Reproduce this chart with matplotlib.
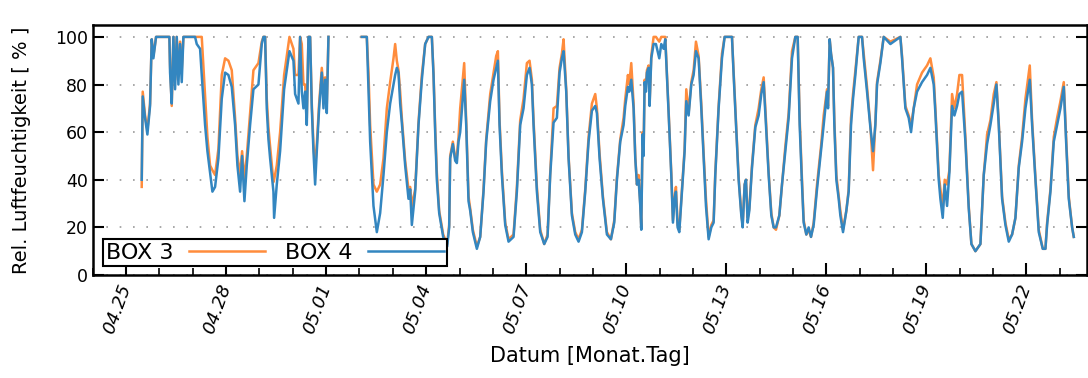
import numpy as np
import matplotlib
matplotlib.use("Agg")
import matplotlib.pyplot as plt
import matplotlib.dates as mdates

# time in days since 04.24 00:00 (rel. humidity in %)
t_days = [1.47, 1.50, 1.57, 1.64, 1.72, 1.77, 1.82, 1.90, 2.30, 2.32, 2.37, 2.42, 2.47, 2.52, 2.57, 2.62, 2.67, 2.72,
          3.07, 3.12, 3.22, 3.27, 3.37, 3.44, 3.52, 3.59, 3.67, 3.77, 3.87, 3.97, 4.07, 4.17, 4.27, 4.34, 4.42, 4.48,
          4.55, 4.62, 4.72, 4.82, 4.97, 5.07, 5.12, 5.17, 5.22, 5.27, 5.32, 5.42, 5.44, 5.52, 5.62, 5.74, 5.90, 6.02,
          6.07, 6.17, 6.22, 6.27, 6.32, 6.37, 6.42, 6.47, 6.52, 6.57, 6.62, 6.67, 6.72, 6.79, 6.87, 6.92, 6.97, 7.02,
          7.07, 7.50, 8.07, 8.22, 8.27, 8.32, 8.42, 8.52, 8.62, 8.72, 8.82, 8.92, 9.02, 9.07, 9.12, 9.17, 9.22, 9.27,
          9.37, 9.47, 9.52, 9.57, 9.67, 9.77, 9.87, 9.97, 10.07, 10.17, 10.22, 10.27, 10.32, 10.39, 10.51, 10.63,
          10.69, 10.72, 10.80, 10.87, 10.92, 10.97, 11.02, 11.14, 11.20, 11.27, 11.32, 11.40, 11.52, 11.62, 11.72,
          11.80, 11.92, 12.02, 12.10, 12.15, 12.20, 12.27, 12.37, 12.47, 12.62, 12.72, 12.82, 12.92, 13.02, 13.10,
          13.17, 13.22, 13.32, 13.42, 13.54, 13.64, 13.72, 13.82, 13.92, 14.00, 14.07, 14.12, 14.20, 14.27, 14.37,
          14.47, 14.57, 14.67, 14.77, 14.87, 14.97, 15.07, 15.12, 15.20, 15.30, 15.42, 15.54, 15.64, 15.72, 15.82,
          15.92, 15.97, 16.05, 16.09, 16.15, 16.22, 16.27, 16.32, 16.37, 16.42, 16.45, 16.49, 16.52, 16.55, 16.59,
          16.62, 16.67, 16.70, 16.75, 16.82, 16.89, 16.99, 17.05, 17.12, 17.17, 17.22, 17.27, 17.35, 17.40, 17.45,
          17.49, 17.54, 17.59, 17.67, 17.75, 17.80, 17.87, 17.95, 18.02, 18.09, 18.17, 18.25, 18.32, 18.39, 18.47,
          18.55, 18.62, 18.67, 18.77, 18.87, 18.95, 19.17, 19.22, 19.29, 19.37, 19.45, 19.49, 19.55, 19.59, 19.64,
          19.69, 19.77, 19.87, 19.97, 20.05, 20.12, 20.19, 20.27, 20.35, 20.42, 20.49, 20.59, 20.67, 20.77, 20.87,
          20.97, 21.07, 21.14, 21.20, 21.27, 21.32, 21.40, 21.47, 21.54, 21.62, 21.72, 21.84, 21.92, 22.02, 22.05,
          22.10, 22.14, 22.20, 22.24, 22.30, 22.37, 22.42, 22.50, 22.60, 22.67, 22.74, 22.80, 22.87, 22.97, 23.07,
          23.12, 23.22, 23.32, 23.40, 23.47, 23.52, 23.62, 23.72, 23.92, 24.22, 24.27, 24.37, 24.47, 24.54, 24.62,
          24.72, 24.87, 25.02, 25.12, 25.22, 25.27, 25.37, 25.42, 25.49, 25.55, 25.62, 25.69, 25.77, 25.84, 25.92,
          25.99, 26.07, 26.17, 26.27, 26.35, 26.47, 26.62, 26.72, 26.82, 26.92, 27.02, 27.10, 27.17, 27.27, 27.37,
          27.47, 27.57, 27.67, 27.77, 27.87, 27.97, 28.10, 28.17, 28.27, 28.37, 28.49, 28.57, 28.62, 28.72, 28.82,
          28.92, 29.02, 29.12, 29.19, 29.27, 29.37, 29.42]

box4 = [40, 75, 66, 59, 71, 99, 91, 100, 100, 85, 72, 100, 78, 100, 80, 97, 81, 100,
        100, 97, 95, 84, 63, 52, 43, 35, 37, 49, 74, 85, 84, 79, 63, 46, 35, 50,
        31, 46, 63, 78, 80, 97, 100, 100, 70, 57, 49, 35, 24, 38, 52, 78, 94, 90,
        76, 72, 100, 77, 70, 77, 63, 100, 100, 70, 52, 38, 52, 70, 85, 70, 82, 68,
        100, np.nan, 100, 100, 78, 56, 29, 18, 26, 42, 60, 72, 80, 84, 87, 85, 72, 64,
        46, 32, 36, 21, 35, 63, 82, 97, 100, 100, 84, 60, 40, 26, 16, 12,
        20, 49, 55, 48, 47, 56, 60, 82, 63, 31, 27, 18, 11, 16, 35,
        56, 73, 82, 87, 90, 63, 42, 21, 14, 16, 35, 63, 70, 84, 87,
        80, 63, 35, 18, 13, 16, 42, 64, 66, 85, 91, 94, 77, 49, 25,
        17, 14, 18, 35, 56, 69, 71, 68, 49, 32, 17, 15, 22, 40, 56,
        63, 71, 79, 77, 82, 70, 49, 38, 40, 29, 19, 59, 50, 81, 77,
        85, 87, 71, 91, 97, 97, 91, 97, 95, 99, 84, 68, 42, 22, 32,
        35, 20, 18, 35, 52, 73, 67, 80, 84, 94, 91, 70, 49, 29, 15,
        20, 22, 42, 70, 91, 100, 100, 84, 63, 40, 25, 20, 38, 40, 22,
        27, 45, 62, 67, 76, 81, 63, 42, 25, 20, 20, 25, 38, 52, 66,
        91, 100, 100, 63, 38, 22, 17, 20, 16, 21, 36, 52, 63, 77, 70,
        99, 93, 87, 63, 40, 32, 25, 18, 27, 35, 63, 74, 84, 100, 100,
        91, 77, 62, 52, 63, 80, 89, 100, 97, 100, 91, 70, 66, 60, 70,
        77, 81, 84, 87, 80, 68, 40, 32, 24, 38, 29, 43, 71, 67, 71,
        76, 77, 56, 28, 13, 10, 13, 42, 55, 63, 72, 80, 63, 32, 21,
        14, 17, 24, 45, 56, 70, 82, 63, 40, 18, 11, 11, 21, 35, 56,
        63, 70, 79, 56, 32, 20, 16]

box3 = [37, 77, 67, 61, 72, 99, 92, 100, 100, 88, 71, 100, 82, 100, 84, 98, 86, 100,
        100, 100, 100, 100, 75, 58, 46, 44, 42, 53, 84, 91, 90, 86, 66, 50, 42, 52,
        40, 50, 68, 86, 89, 98, 100, 100, 74, 62, 54, 39, 40, 46, 60, 84, 100, 95,
        84, 84, 100, 97, 80, 80, 66, 100, 100, 72, 55, 45, 55, 72, 87, 78, 83, 72,
        100, np.nan, 100, 100, 85, 63, 38, 35, 38, 49, 70, 81, 91, 97, 90, 86, 77, 66,
        48, 36, 37, 29, 36, 64, 84, 97, 100, 100, 85, 62, 43, 27, 17, 13,
        21, 50, 56, 49, 50, 58, 70, 89, 65, 33, 28, 19, 12, 16, 36,
        57, 76, 85, 92, 94, 65, 44, 22, 15, 17, 37, 65, 74, 89, 90,
        82, 65, 37, 19, 13, 17, 43, 70, 71, 87, 93, 99, 78, 50, 26,
        18, 15, 19, 36, 58, 72, 76, 70, 51, 33, 18, 15, 23, 41, 57,
        66, 74, 84, 80, 89, 72, 50, 38, 42, 30, 20, 60, 52, 82, 80,
        86, 88, 72, 92, 100, 100, 98, 100, 100, 100, 85, 69, 43, 23, 33,
        37, 21, 19, 36, 53, 78, 68, 81, 86, 98, 92, 72, 51, 32, 16,
        21, 23, 43, 71, 93, 100, 100, 85, 64, 41, 26, 21, 38, 40, 24,
        28, 46, 63, 70, 78, 83, 65, 43, 26, 20, 19, 25, 38, 54, 68,
        94, 100, 100, 66, 40, 23, 17, 19, 16, 22, 38, 54, 67, 78, 71,
        99, 93, 87, 65, 42, 33, 27, 19, 27, 36, 66, 76, 86, 100, 100,
        93, 79, 63, 44, 64, 81, 90, 100, 98, 100, 92, 71, 67, 63, 70,
        80, 85, 88, 91, 83, 70, 42, 36, 28, 40, 38, 44, 76, 70, 76,
        84, 84, 58, 29, 13, 10, 13, 42, 59, 65, 76, 81, 64, 33, 22,
        15, 17, 24, 46, 58, 74, 88, 65, 41, 19, 11, 11, 22, 36, 58,
        66, 73, 81, 58, 33, 20, 16]

tick_dates = ['2015-04-25', '2015-04-28', '2015-05-01', '2015-05-04', '2015-05-07',
              '2015-05-10', '2015-05-13', '2015-05-16', '2015-05-19', '2015-05-22']

start = np.datetime64('2015-04-24T00:00')
times = start + (np.array(t_days) * 86400).astype('timedelta64[s]')
x_end = start + np.timedelta64(int(29.83 * 86400), 's')

fig = plt.figure(figsize=(10.88, 3.78), dpi=100)
ax = fig.add_axes([0.0852, 0.2725, 0.9143, 0.6614])

ax.plot(times, box3, color='#ff8c3c', lw=1.8, label='BOX 3')
ax.plot(times, box4, color='#3386c0', lw=1.8, label='BOX 4')

ax.set_xlim(start, x_end)
ax.set_ylim(0, 105)
ax.set_yticks([0, 20, 40, 60, 80, 100])
ax.grid(axis='y', color='#999999', lw=1.2, linestyle=(0, (1, 7)))

ax.set_xticks(np.array(tick_dates, dtype='datetime64[D]'))
ax.xaxis.set_major_formatter(mdates.DateFormatter('%m.%d'))
ax.xaxis.set_minor_locator(mdates.DayLocator())
ax.tick_params(axis='x', which='major', direction='in', length=9, width=1.5, top=False)
ax.tick_params(axis='x', which='minor', direction='in', length=5, width=1.2, top=False)
ax.tick_params(axis='y', direction='in', length=8, width=1.5, right=True, labelsize=12.5)
for lab in ax.get_xticklabels():
    lab.set_rotation(70)
    lab.set_rotation_mode('anchor')
    lab.set_ha('right')
    lab.set_va('center')
    lab.set_fontstyle('italic')
    lab.set_fontsize(13)
ax.tick_params(axis='x', pad=7)

for s in ax.spines.values():
    s.set_linewidth(1.8)

ax.set_ylabel('Rel. Luftfeuchtigkeit [ % ]', fontsize=14)
ax.set_xlabel('Datum [Monat.Tag]', fontsize=15)
ax.yaxis.set_label_coords(-0.062, 0.5)
ax.xaxis.set_label_coords(0.5, -0.285)

leg = ax.legend(loc='lower left', bbox_to_anchor=(0.0104, 0.036), ncol=2, markerfirst=False,
                fontsize=16, frameon=True, fancybox=False, framealpha=1, edgecolor='black',
                borderaxespad=0, borderpad=0.15, handlelength=3.4, handletextpad=0.7,
                columnspacing=0.9)
leg.get_frame().set_linewidth(1.5)
leg.set_zorder(5)

fig.savefig('out.png', dpi=100)
